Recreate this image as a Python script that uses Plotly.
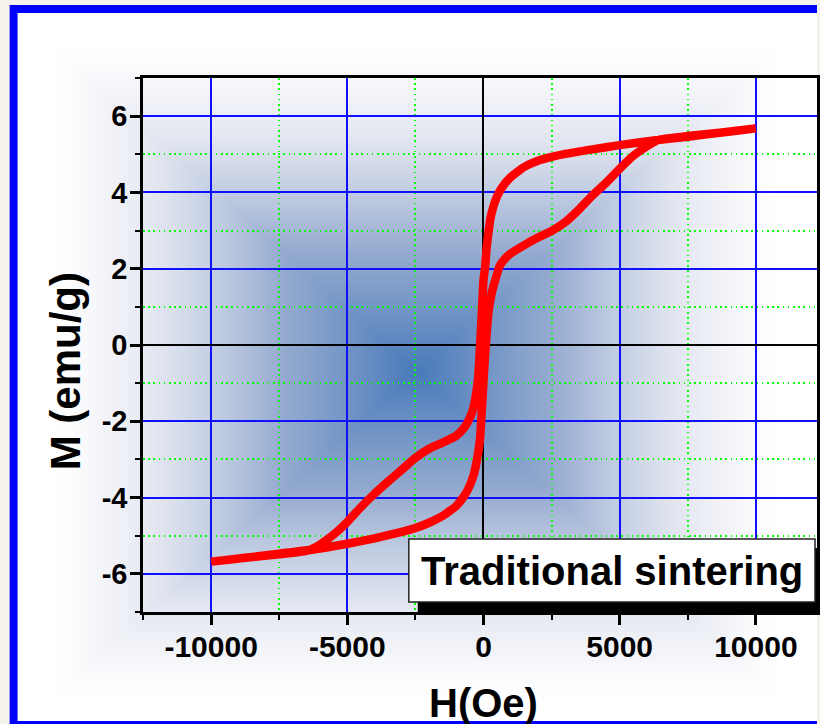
import numpy as np
import zlib, struct, base64
import plotly.graph_objects as go

# ---------------- data ----------------
# descending branch: +10000 Oe -> -10000 Oe
H_desc = [10000, 8750, 7500, 6250, 5000, 4000, 3000, 2500, 2000, 1500, 1000, 700, 500, 350,
          250, 180, 120, 60, 0, -60, -120, -200, -300, -400, -550, -700, -1000, -1500,
          -2000, -2500, -3000, -3500, -4000, -4500, -5000, -5500, -6000, -6250, -6500,
          -7500, -8750, -10000]
M_desc = [5.68, 5.57, 5.46, 5.36, 5.24, 5.13, 5.01, 4.93, 4.83, 4.67, 4.40, 4.15, 3.90, 3.60,
          3.30, 2.93, 2.58, 2.05, 1.70, 0.85, 0.04, -0.90, -1.40, -1.72, -1.98, -2.16, -2.38,
          -2.56, -2.72, -2.96, -3.27, -3.58, -3.90, -4.25, -4.64, -4.97, -5.23, -5.33,
          -5.40, -5.49, -5.58, -5.68]
# ascending branch: -10000 Oe -> +10000 Oe
H_asc = [-10000, -8750, -7500, -6250, -5000, -4000, -3000, -2500, -2000, -1500, -1000, -700,
         -500, -350, -250, -180, -120, -60, 0, 60, 120, 200, 300, 430, 600, 800, 1000, 1500,
         2000, 2500, 3000, 3500, 4000, 4500, 5000, 5500, 6000, 6250, 6500, 7500, 8750, 10000]
M_asc = [-5.68, -5.58, -5.47, -5.36, -5.21, -5.07, -4.90, -4.80, -4.66, -4.48, -4.22, -3.95,
         -3.68, -3.38, -3.05, -2.75, -2.40, -1.70, -0.95, -0.25, 0.35, 0.95, 1.35, 1.70,
         2.08, 2.27, 2.40, 2.62, 2.82, 2.99, 3.22, 3.55, 3.92, 4.25, 4.62, 4.96, 5.21,
         5.32, 5.39, 5.48, 5.57, 5.68]

x_ticks = [-10000, -5000, 0, 5000, 10000]
x_ticklabels = ["-10000", "-5000", "0", "5000", "10000"]
x_minor = [-12500, -7500, -2500, 2500, 7500, 12500]
y_ticks = [-6, -4, -2, 0, 2, 4, 6]
y_ticklabels = ["-6", "-4", "-2", "0", "2", "4", "6"]
y_minor = [-7, -5, -3, -1, 1, 3, 5, 7]

x_title = "H(Oe)"
y_title = "M (emu/g)"
legend_label = "Traditional sintering"

# ---------------- geometry ----------------
W, Hh = 820, 724
ML, MT, MB, MR = 143, 78, 112, 0
PW = W - ML - MR
PH = Hh - MT - MB
X0_PX = 485  # pixel column of H = 0


def px(x):
    return (x - ML) / PW


def py(y):
    return (Hh - MB - y) / PH


# ---------------- background picture (frame + rectangular gradient) ----------------
def make_background():
    ys, xs = np.mgrid[0:Hh, 0:W].astype(float) + 0.5
    cx, cy, hx, hy = 418.0, 372.0, 370.0, 332.0
    t = np.maximum(np.abs(xs - cx) / hx, np.abs(ys - cy) / hy)
    inten = np.clip(1.0 - t, 0.0, 1.0) ** 1.55
    si = [0.0, 0.05, 0.15, 0.5, 1.0]
    r = np.interp(inten, si, [255, 244, 226, 148, 72])
    g = np.interp(inten, si, [255, 245, 230, 170, 122])
    b = np.interp(inten, si, [255, 249, 240, 207, 186])
    img = np.stack([r, g, b], axis=-1)
    beige = np.array([245, 242, 236], float)
    blue = np.array([0, 0, 255], float)
    img[:5, :, :] = beige
    img[:, :9, :] = beige
    img[5:13, 9:, :] = blue
    img[5:, 9:17, :] = blue
    img[721:, 9:, :] = blue
    img = np.clip(np.round(img), 0, 255).astype(np.uint8)
    rows = img.reshape(Hh, W * 3).astype(np.int16)
    prev = np.vstack([np.zeros((1, W * 3), np.int16), rows[:-1]])
    filt = ((rows - prev) % 256).astype(np.uint8)
    raw = np.hstack([np.full((Hh, 1), 2, np.uint8), filt]).tobytes()

    def chunk(tag, data):
        c = struct.pack(">I", len(data)) + tag + data
        return c + struct.pack(">I", zlib.crc32(tag + data) & 0xffffffff)

    png = b"\x89PNG\r\n\x1a\n"
    png += chunk(b"IHDR", struct.pack(">IIBBBBB", W, Hh, 8, 2, 0, 0, 0))
    png += chunk(b"IDAT", zlib.compress(raw, 9))
    png += chunk(b"IEND", b"")
    return "data:image/png;base64," + base64.b64encode(png).decode()


bg_src = make_background()

# ---------------- figure ----------------
fig = go.Figure()
fig.add_trace(go.Scatter(
    x=H_desc + H_asc, y=M_desc + M_asc, mode="lines",
    line=dict(color="#ff0000", width=8.5, shape="spline", smoothing=0.45),
    hoverinfo="skip", showlegend=False,
))

font_family = "Liberation Sans, Arial, sans-serif"
axis_common = dict(
    showline=True, linecolor="black", linewidth=2.5, mirror=True,
    ticks="outside", ticklen=10, tickwidth=2.5, tickcolor="black",
    showgrid=True, gridcolor="#1010ff", gridwidth=1.5,
    zeroline=True, zerolinecolor="black", zerolinewidth=2,
)
minor_common = dict(ticks="outside", ticklen=5, tickwidth=2, tickcolor="black",
                    showgrid=True, gridcolor="#00ff00", gridwidth=1.6, griddash="1.6px,3.6px")

x_right = (W - X0_PX) / ((X0_PX - ML) / 12500.0)
fig.update_xaxes(
    range=[-12500, x_right],
    tickmode="array", tickvals=x_ticks, ticktext=x_ticklabels,
    tickfont=dict(family=font_family, size=30, color="black", weight="bold"),
    ticklabelstandoff=-4,
    minor=dict(tickmode="array", tickvals=x_minor, **minor_common),
    **axis_common,
)
fig.update_yaxes(
    range=[-7, 7],
    tickmode="array", tickvals=y_ticks, ticktext=y_ticklabels,
    tickfont=dict(family=font_family, size=29, color="black", weight="bold"),
    ticklabelstandoff=-3,
    minor=dict(tickmode="array", tickvals=y_minor, **minor_common),
    **axis_common,
)

shapes = [
    # legend shadow
    dict(type="rect", xref="paper", yref="paper", x0=px(419), x1=px(835), y0=py(612), y1=py(548),
         fillcolor="black", line=dict(width=0), layer="above"),
    # legend box
    dict(type="rect", xref="paper", yref="paper", x0=px(410), x1=px(818), y0=py(602), y1=py(539),
         fillcolor="white", line=dict(color="#222222", width=1.5), layer="above"),
]

annotations = [
    dict(text=legend_label, xref="paper", yref="paper", x=px(614), y=py(571),
         xanchor="center", yanchor="middle", showarrow=False,
         font=dict(family=font_family, size=40, color="black", weight="bold")),
    dict(text=y_title, xref="paper", yref="paper", x=px(65), y=py(371), textangle=-90,
         xanchor="center", yanchor="middle", showarrow=False,
         font=dict(family=font_family, size=42, color="black", weight="bold")),
    dict(text=x_title, xref="x", yref="paper", x=0, y=py(679),
         xanchor="center", yanchor="top", showarrow=False,
         font=dict(family=font_family, size=40, color="black", weight="bold")),
]

fig.update_layout(
    width=W, height=Hh, autosize=False,
    margin=dict(l=ML, r=MR, t=MT, b=MB, pad=0),
    paper_bgcolor="#f5f2ec", plot_bgcolor="rgba(0,0,0,0)",
    shapes=shapes, annotations=annotations,
    images=[dict(source=bg_src, xref="paper", yref="paper", x=-ML / PW, y=1 + MT / PH,
                 sizex=W / PW, sizey=Hh / PH, xanchor="left", yanchor="top",
                 sizing="stretch", layer="below")],
    showlegend=False,
)

fig.write_html("out.html", include_plotlyjs=True, config={"displayModeBar": False},
               post_script="document.body.style.margin='0';document.body.style.overflow='hidden';")
